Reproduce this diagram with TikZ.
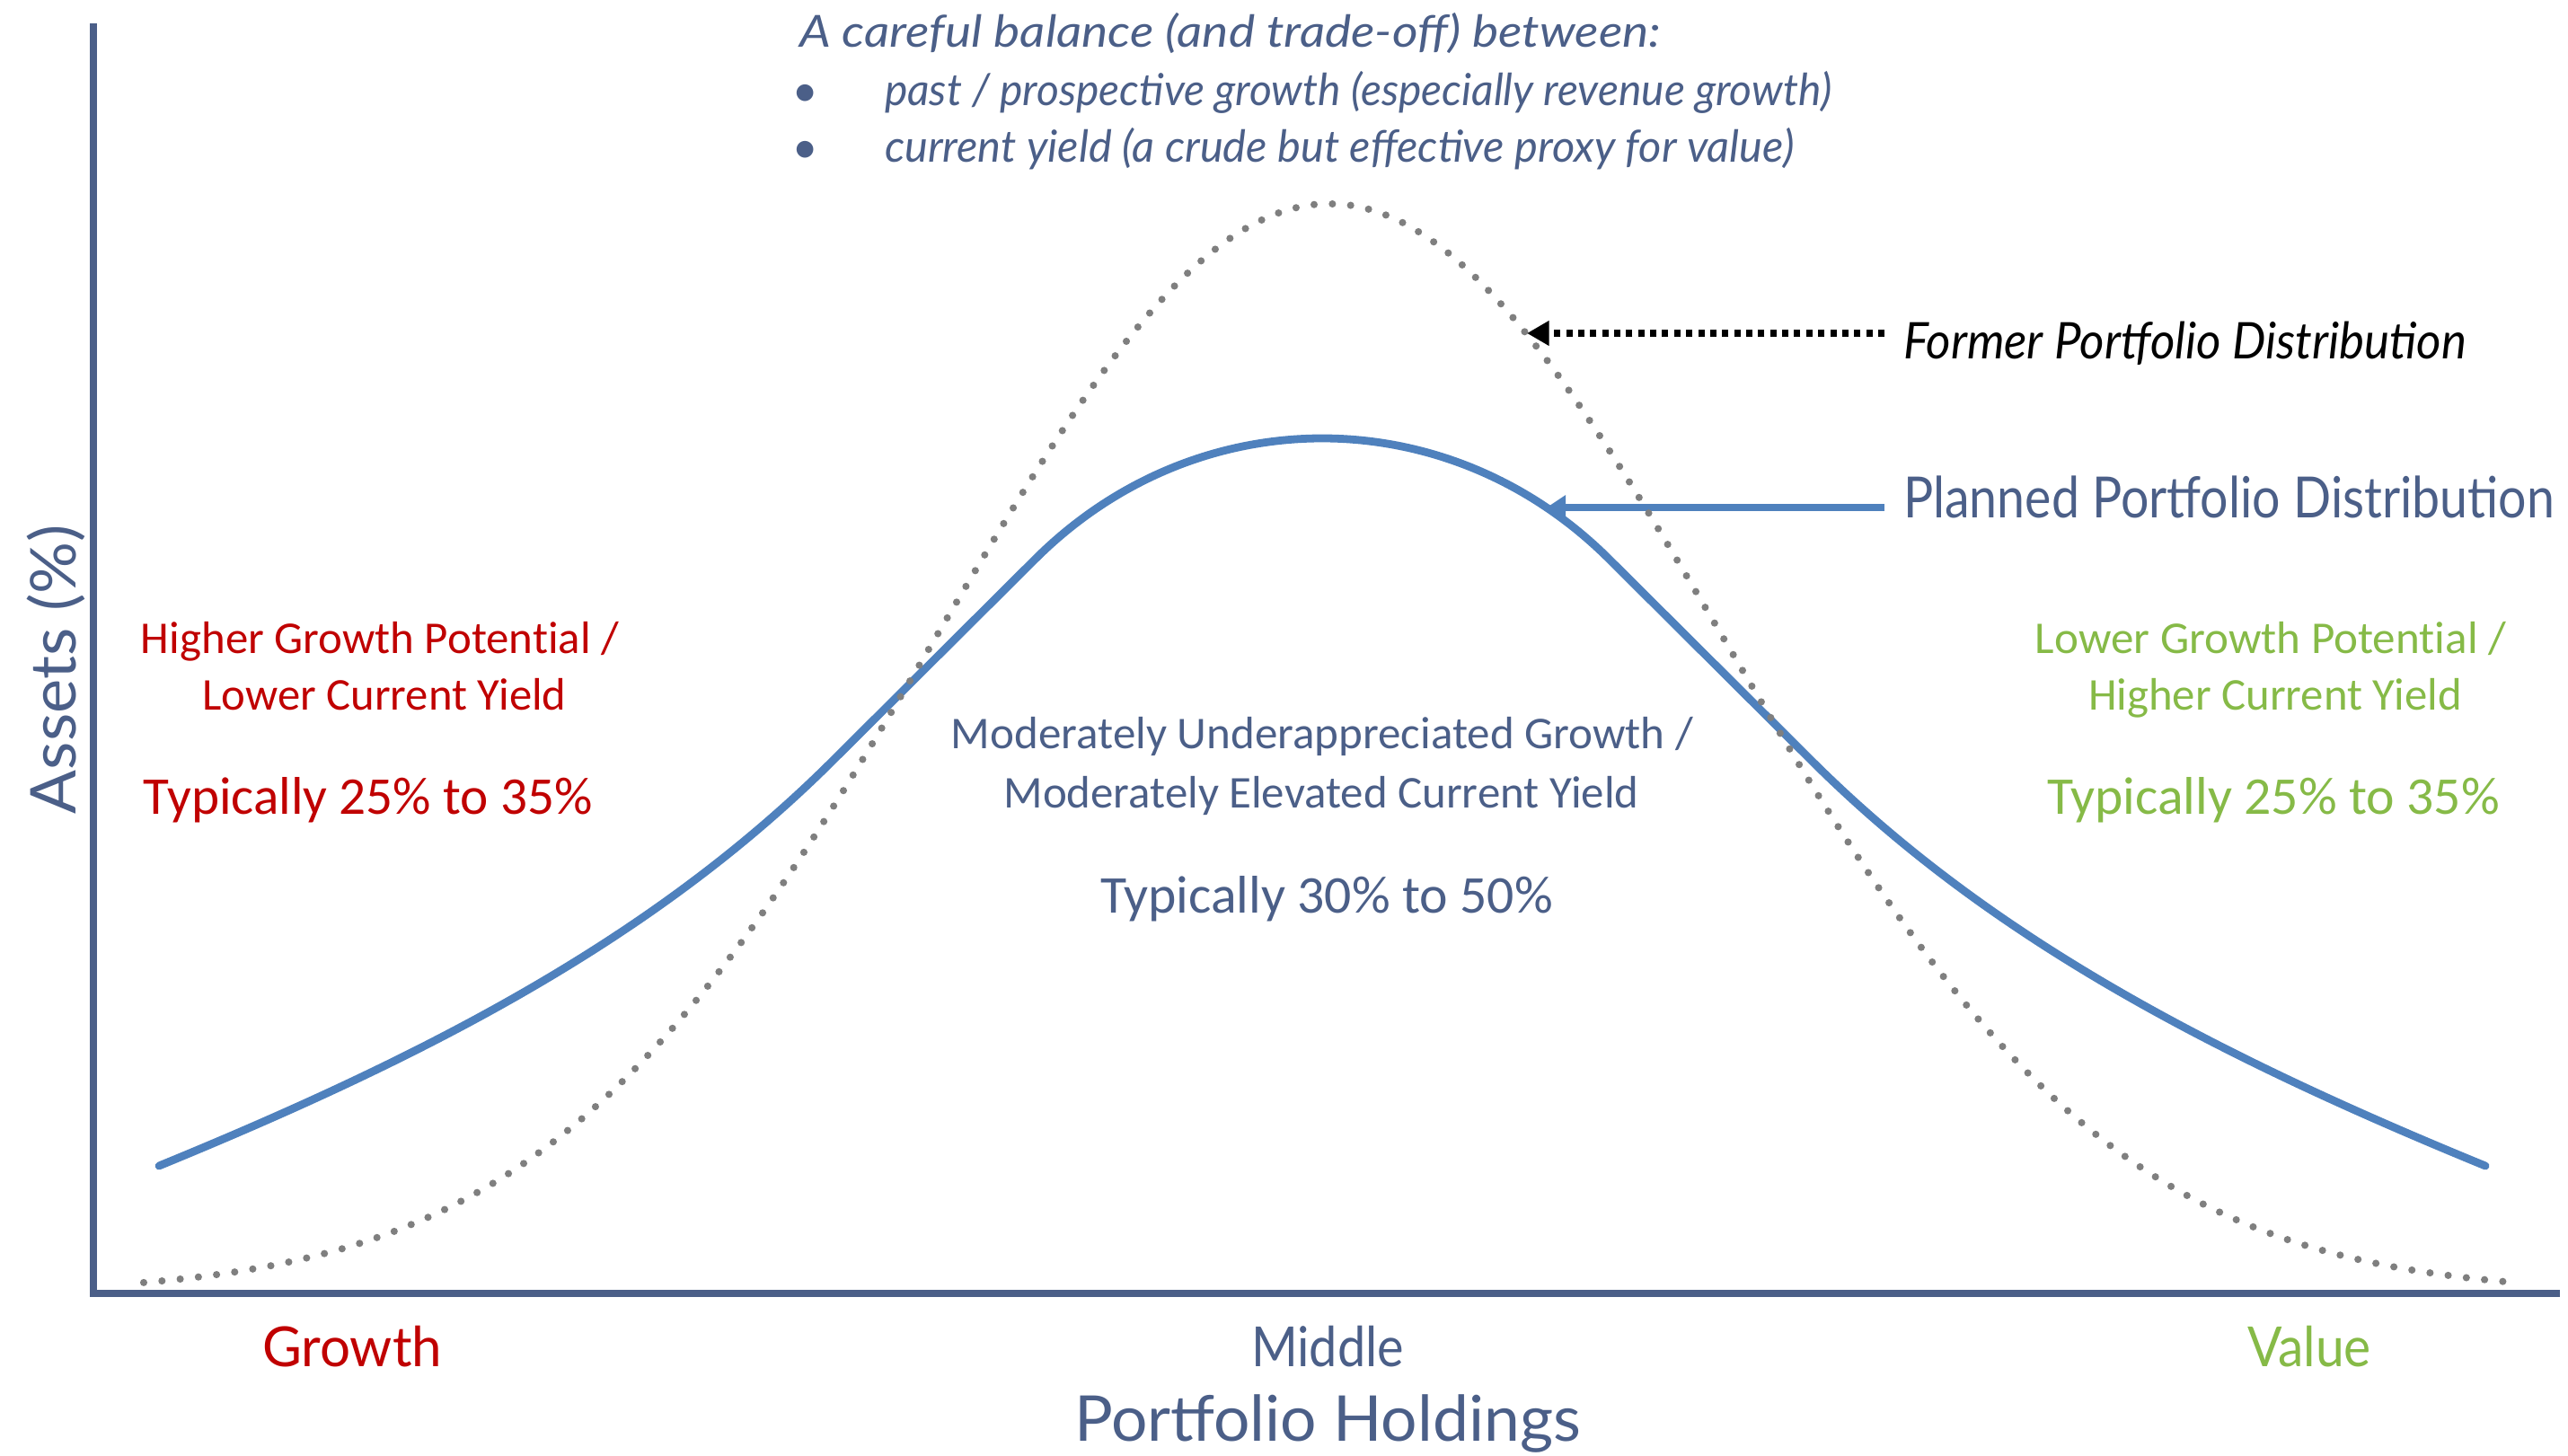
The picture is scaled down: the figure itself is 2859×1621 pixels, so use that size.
\documentclass[tikz,border=0pt]{standalone}
\usepackage{fontspec}
\usepackage{graphicx}
\setmainfont{Carlito}[Ligatures=NoCommon]
\newfontfamily\gill{Lato}
\usetikzlibrary{arrows.meta}
\definecolor{slate}{HTML}{4B5F88}
\definecolor{curveblue}{HTML}{4F81BD}
\definecolor{dotgray}{HTML}{7F7F7F}
\definecolor{gred}{HTML}{C00000}
\definecolor{vgreen}{HTML}{86BA47}
\newlength\pxu \setlength\pxu{0.01cm}
\newcommand\fitw[2]{\resizebox{#1\pxu}{\height}{#2}}
\begin{document}
\begin{tikzpicture}[x=0.01cm,y=-0.01cm,
  txt/.style={inner sep=0pt,outer sep=0pt},
  axisline/.style={slate,line width=2.3pt},
  plannedcurve/.style={curveblue,line width=2.5pt,line cap=round,line join=round},
  formercurve/.style={dotgray,line width=2.3pt,line cap=round,dash pattern=on 0pt off 5.8pt},
  formerarrow/.style={black,line width=2.5pt,dash pattern=on 2pt off 1.8pt,-{Triangle[length=7pt,width=7.5pt]}},
  plannedarrow/.style={curveblue,line width=2.3pt,-{Triangle[length=6pt,width=7.5pt]}},
  gilltop/.style={txt,anchor=base west,text=slate,font=\gill\itshape\fontsize{14}{16}\selectfont},
  small/.style={txt,anchor=base,font=\fontsize{14.4}{17}\selectfont},
  big/.style={txt,anchor=base,font=\fontsize{16.8}{20}\selectfont},
  tick/.style={txt,anchor=base,font=\gill\fontsize{17.5}{20}\selectfont},
  axtitle/.style={txt,anchor=base,text=slate,font=\gill\fontsize{20}{24}\selectfont}
]
\useasboundingbox (0,0) rectangle (2859,1621);
\fill[white] (0,0) rectangle (2859,1621);

% axes
\draw[axisline] (104,26) -- (104,1444);
\draw[axisline] (100,1440) -- (2850,1440);

% planned distribution (solid blue)
\draw[plannedcurve] (177,1298) .. controls (477,1175) and (729,1045) .. (929,845)
  -- (1152,623) .. controls (1332,443) and (1612,443) .. (1792,623)
  -- (2015,845) .. controls (2215,1045) and (2467,1175) .. (2767,1298);

% legend labels and arrows
\node[txt,anchor=base west,text=black,font=\gill\itshape\fontsize{16}{18}\selectfont] (former) at (2119,399) {\fitw{627}{Former Portfolio Distribution}};
\node[txt,anchor=base west,text=slate,font=\gill\fontsize{18}{20}\selectfont] (planned) at (2119,576) {\fitw{725}{Planned Portfolio Distribution}};
\coordinate (ftip) at (1700,371);
\coordinate (ptip) at (1722,565);
\draw[plannedarrow] (planned.west |- ptip) ++(-21,0) -- (ptip);

% former distribution (dotted grey)
\draw[formercurve] plot[domain=160:2790,samples=260] (\x,{1440-1213*exp(-0.5*((\x-1480)/435)^2)});
\draw[formerarrow] (former.west |- ftip) ++(-21,0) -- (ftip);

% top text
\node[gilltop] (topA) at (890,53) {\fitw{959}{A careful balance (and trade-off) between:}};
\node[txt,anchor=base,text=slate,font=\fontsize{15}{16}\selectfont] (bulA) at (897,118) {\textbullet};
\node[gilltop] (topB) at (985,117) {\fitw{1054}{past / prospective growth (especially revenue growth)}};
\node[txt,anchor=base,text=slate,font=\fontsize{15}{16}\selectfont] (bulB) at (897,181) {\textbullet};
\node[gilltop] (topC) at (985,180) {\fitw{1012}{current yield (a crude but effective proxy for value)}};

% left labels
\node[small,text=gred] (l1) at (423,727) {\fitw{532}{Higher Growth Potential /}};
\node[small,text=gred] (l2) at (428,790) {\fitw{405}{Lower Current Yield}};
\node[big,text=gred] (l3) at (410,906) {\fitw{500}{Typically 25\% to 35\%}};

% right labels
\node[small,text=vgreen] (r1) at (2528,727) {\fitw{524}{Lower Growth Potential /}};
\node[small,text=vgreen] (r2) at (2533,790) {\fitw{416}{Higher Current Yield}};
\node[big,text=vgreen] (r3) at (2531,906) {\fitw{504}{Typically 25\% to 35\%}};

% middle labels
\node[small,text=slate] (m1) at (1472,833) {\fitw{826}{Moderately Underappreciated Growth /}};
\node[small,text=slate] (m2) at (1471,899) {\fitw{707}{Moderately Elevated Current Yield}};
\node[big,text=slate] (m3) at (1477,1016) {\fitw{504}{Typically 30\% to 50\%}};

% axis ticks and titles
\node[tick,text=gred] (tg) at (392,1521) {\fitw{200}{Growth}};
\node[tick,text=slate] (tm) at (1478,1521) {\fitw{170}{Middle}};
\node[tick,text=vgreen] (tv) at (2571,1521) {\fitw{138}{Value}};
\node[axtitle] (xt) at (1478,1604) {\fitw{564}{Portfolio Holdings}};
\node[axtitle,rotate=90] (yt) at (84,745) {\fitw{322}{Assets (\%)}};
\end{tikzpicture}
\end{document}
